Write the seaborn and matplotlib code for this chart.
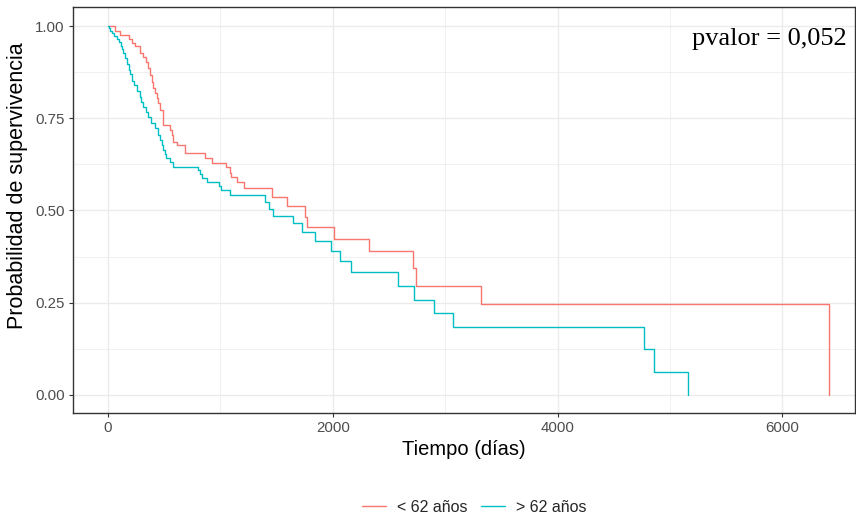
import matplotlib
matplotlib.use("Agg")
import matplotlib.pyplot as plt
from matplotlib.lines import Line2D
from matplotlib.ticker import MultipleLocator
import numpy as np
import pandas as pd
import seaborn as sns

# Kaplan-Meier step estimates per age group
grupos = ["< 62 años", "> 62 años"]
colores = ["#F8766D", "#00BFC4"]

tiempo_menor = [0, 62, 107, 190, 211, 240, 285, 309, 338, 359, 374, 389, 403, 418,
                433, 448, 463, 490, 552, 566, 576, 611, 685, 863, 923, 1050, 1086,
                1098, 1146, 1214, 1463, 1596, 1754, 1769, 2012, 2324, 2712, 2739,
                3321, 6410]
superv_menor = [1.000, 0.986, 0.976, 0.965, 0.955, 0.946, 0.926, 0.915, 0.903, 0.885,
                0.867, 0.849, 0.831, 0.818, 0.804, 0.790, 0.772, 0.732, 0.718, 0.705,
                0.686, 0.678, 0.657, 0.643, 0.630, 0.617, 0.601, 0.592, 0.578, 0.560,
                0.537, 0.512, 0.483, 0.454, 0.423, 0.389, 0.343, 0.295, 0.246, 0.000]

tiempo_mayor = [0, 10, 20, 35, 50, 80, 98, 113, 125, 136, 151, 169, 184, 196, 214,
                231, 258, 285, 296, 312, 335, 356, 383, 418, 445, 463, 478, 492, 507,
                516, 552, 576, 804, 819, 834, 884, 991, 1003, 1086, 1398, 1433, 1472,
                1644, 1724, 1843, 1982, 2065, 2166, 2579, 2718, 2902, 3065, 4766,
                4855, 5157]
superv_mayor = [1.000, 0.994, 0.986, 0.980, 0.974, 0.965, 0.957, 0.947, 0.939, 0.926,
                0.912, 0.896, 0.881, 0.869, 0.852, 0.840, 0.824, 0.808, 0.793, 0.781,
                0.768, 0.754, 0.736, 0.723, 0.705, 0.691, 0.678, 0.664, 0.652, 0.641,
                0.632, 0.619, 0.610, 0.599, 0.587, 0.578, 0.567, 0.556, 0.541, 0.524,
                0.503, 0.485, 0.465, 0.443, 0.418, 0.391, 0.364, 0.334, 0.295, 0.258,
                0.221, 0.183, 0.124, 0.062, 0.000]

x_ticks = [0, 2000, 4000, 6000]
y_ticks = [0.00, 0.25, 0.50, 0.75, 1.00]
y_tick_labels = ["0.00", "0.25", "0.50", "0.75", "1.00"]
texto_p = "pvalor = 0,052"

df = pd.concat([
    pd.DataFrame({"tiempo": tiempo_menor, "supervivencia": superv_menor, "grupo": grupos[0]}),
    pd.DataFrame({"tiempo": tiempo_mayor, "supervivencia": superv_mayor, "grupo": grupos[1]}),
], ignore_index=True)

sns.set_theme(style="white")
plt.rcParams["font.family"] = ["Liberation Sans", "DejaVu Sans"]

W, H = 856, 517
fig = plt.figure(figsize=(W / 100, H / 100), dpi=100)
left, right, top, bottom = 72.6, 855.5, 7.0, 413.0
ax = fig.add_axes([left / W, 1 - bottom / H, (right - left) / W, (bottom - top) / H])

sns.lineplot(data=df, x="tiempo", y="supervivencia", hue="grupo",
             hue_order=grupos, palette=colores, estimator=None,
             drawstyle="steps-post", linewidth=1.0, legend=False, ax=ax, zorder=3)

ax.set_xlim(-315, 6650)
ax.set_ylim(-0.0488, 1.0515)

ax.set_xticks(x_ticks)
ax.set_yticks(y_ticks)
ax.set_yticklabels(y_tick_labels)
ax.xaxis.set_minor_locator(MultipleLocator(1000))
ax.yaxis.set_minor_locator(MultipleLocator(0.125))

ax.grid(True, which="major", color="#EBEBEB", linewidth=0.95, zorder=0)
ax.grid(True, which="minor", color="#EBEBEB", linewidth=0.5, zorder=0)
ax.set_axisbelow(True)

for s in ax.spines.values():
    s.set_color("#333333")
    s.set_linewidth(1.0)

ax.tick_params(axis="both", which="major", direction="out", length=3.2, width=0.8,
               color="#333333", labelcolor="#4D4D4D", labelsize=10.8, pad=2.5,
               bottom=True, left=True)
ax.tick_params(axis="both", which="minor", length=0)

ax.set_xlabel("Tiempo (días)", fontsize=14.5, color="black", labelpad=4)
ax.set_ylabel("Probabilidad de supervivencia", fontsize=15.5, color="black")
ax.yaxis.set_label_coords(-0.057, 0.56)

ax.text(6575, 0.9485, texto_p, ha="right", va="baseline",
        family=["Liberation Serif", "DejaVu Serif"], fontsize=19, color="black")

handles = [Line2D([0], [0], color=c, linewidth=1.0) for c in colores]
fig.legend(handles, grupos, loc="center", bbox_to_anchor=(474 / W, 1 - 507 / H),
           ncol=2, frameon=False, fontsize=11.5, handlelength=1.5,
           handletextpad=0.7, columnspacing=0.85)

fig.savefig("out.png", dpi=100)
